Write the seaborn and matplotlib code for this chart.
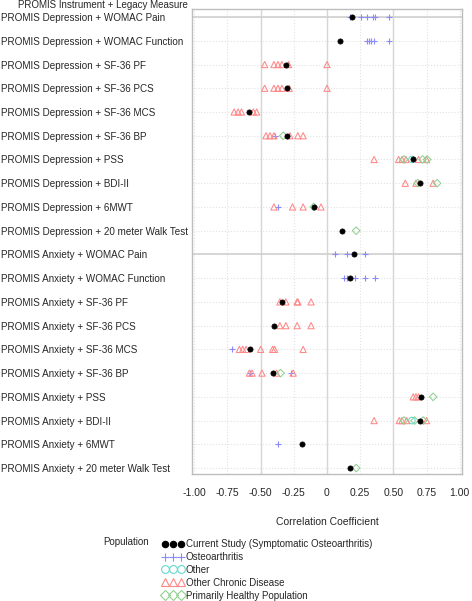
import numpy as np
import pandas as pd
import matplotlib
matplotlib.use("Agg")
import matplotlib.pyplot as plt
from matplotlib.lines import Line2D
import seaborn as sns

# Rows from top to bottom
measures = [
    "PROMIS Depression + WOMAC Pain",
    "PROMIS Depression + WOMAC Function",
    "PROMIS Depression + SF-36 PF",
    "PROMIS Depression + SF-36 PCS",
    "PROMIS Depression + SF-36 MCS",
    "PROMIS Depression + SF-36 BP",
    "PROMIS Depression + PSS",
    "PROMIS Depression + BDI-II",
    "PROMIS Depression + 6MWT",
    "PROMIS Depression + 20 meter Walk Test",
    "PROMIS Anxiety + WOMAC Pain",
    "PROMIS Anxiety + WOMAC Function",
    "PROMIS Anxiety + SF-36 PF",
    "PROMIS Anxiety + SF-36 PCS",
    "PROMIS Anxiety + SF-36 MCS",
    "PROMIS Anxiety + SF-36 BP",
    "PROMIS Anxiety + PSS",
    "PROMIS Anxiety + BDI-II",
    "PROMIS Anxiety + 6MWT",
    "PROMIS Anxiety + 20 meter Walk Test",
]

# Current study (one value per row)
current_r = [0.19, 0.10, -0.31, -0.30, -0.585, -0.305, 0.65, 0.70, -0.10, 0.11,
             0.20, 0.17, -0.34, -0.40, -0.58, -0.41, 0.71, 0.70, -0.19, 0.17]

# Literature values, one list per row
osteo_r = [
    [0.17, 0.26, 0.30, 0.35, 0.365, 0.465],
    [0.30, 0.315, 0.33, 0.355, 0.47],
    [], [], [],
    [-0.39],
    [], [],
    [-0.37],
    [],
    [0.06, 0.15, 0.29],
    [0.13, 0.15, 0.21, 0.29, 0.36],
    [], [],
    [-0.716],
    [-0.58, -0.27],
    [], [],
    [-0.37],
    [],
]
other_r = [[], [], [], [], [], [], [0.64], [], [], [],
           [], [], [], [], [], [], [], [0.64], [], []]
chronic_r = [
    [], [],
    [-0.47, -0.40, -0.37, -0.34, -0.29, 0.00],
    [-0.47, -0.40, -0.37, -0.34, -0.285, 0.00],
    [-0.70, -0.67, -0.645, -0.555, -0.53],
    [-0.46, -0.43, -0.40, -0.28, -0.22, -0.18],
    [0.355, 0.54, 0.565, 0.595, 0.69, 0.75],
    [0.59, 0.67, 0.80],
    [-0.40, -0.26, -0.18, -0.045],
    [],
    [], [],
    [-0.355, -0.31, -0.225, -0.22, -0.12],
    [-0.355, -0.31, -0.225, -0.12],
    [-0.66, -0.635, -0.61, -0.50, -0.41, -0.395, -0.18],
    [-0.585, -0.565, -0.49, -0.38, -0.255],
    [0.65, 0.67, 0.69],
    [0.355, 0.545, 0.565, 0.60, 0.75],
    [], [],
]
healthy_r = [
    [], [], [], [], [],
    [-0.33],
    [0.58, 0.72, 0.755],
    [0.685, 0.83],
    [-0.10],
    [0.22],
    [], [], [], [], [],
    [-0.35],
    [0.80],
    [0.58, 0.66, 0.725],
    [],
    [0.22],
]

x_ticks = [-1.0, -0.75, -0.5, -0.25, 0.0, 0.25, 0.5, 0.75, 1.0]
x_ticklabels = ["-1.00", "-0.75", "-0.50", "-0.25", "0", "0.25", "0.50", "0.75", "1.00"]


def to_long(values, name):
    rows = []
    for m, vals in zip(measures, values):
        for v in vals:
            rows.append((m, name, v))
    return rows


records = to_long([[v] for v in current_r], "Current Study (Symptomatic Osteoarthritis)")
records += to_long(osteo_r, "Osteoarthritis")
records += to_long(other_r, "Other")
records += to_long(chronic_r, "Other Chronic Disease")
records += to_long(healthy_r, "Primarily Healthy Population")
df = pd.DataFrame(records, columns=["measure", "population", "r"])
df["measure"] = pd.Categorical(df["measure"], categories=measures, ordered=True)

sns.set_style("white")
plt.rcParams["font.family"] = ["Liberation Sans", "DejaVu Sans"]

# population -> (marker, colour, scatter size, legend size, filled)
styles = {
    "Current Study (Symptomatic Osteoarthritis)": ("o", "black", 14, 4.6, True),
    "Osteoarthritis": ("+", "#8a8aff", 24, 6.0, True),
    "Other": ("o", "#66d8d0", 22, 5.6, False),
    "Other Chronic Disease": ("^", "#ff8888", 20, 5.8, False),
    "Primarily Healthy Population": ("D", "#8fd08f", 15, 4.8, False),
}

fig = plt.figure(figsize=(4.72, 6.01), dpi=100)
ax = fig.add_axes([192 / 472, 1 - 474 / 601, 270 / 472, 465 / 601])

draw_order = ["Osteoarthritis", "Other", "Other Chronic Disease",
              "Primarily Healthy Population",
              "Current Study (Symptomatic Osteoarthritis)"]
for k, pop in enumerate(draw_order):
    marker, col, size, _, filled = styles[pop]
    sub = df[df["population"] == pop]
    if marker == "+":
        sns.scatterplot(data=sub, x="r", y="measure", marker=marker, s=size,
                        color=col, linewidth=0.8, ax=ax, legend=False, zorder=3 + k)
    elif filled:
        sns.scatterplot(data=sub, x="r", y="measure", marker=marker, s=size,
                        color=col, edgecolor=col, linewidth=0.5, ax=ax,
                        legend=False, zorder=3 + k)
    else:
        sns.scatterplot(data=sub, x="r", y="measure", marker=marker, s=size,
                        color=col, facecolors="none", edgecolor=col,
                        linewidth=0.75, ax=ax, legend=False, zorder=3 + k)

ax.set_xlim(-1.0175, 1.0175)
ax.set_ylim(len(measures) - 0.75, -0.34)
ax.set_xticks(x_ticks)
ax.set_xticklabels(x_ticklabels)
ax.set_yticks(range(len(measures)))
ax.set_yticklabels(measures)

# grid: dotted everywhere, solid at -0.5, 0, 0.5 and group separators
ax.grid(True, color="#e2e2e2", linestyle=":", linewidth=0.8)
for xv in [-0.5, 0.0, 0.5]:
    ax.axvline(xv, color="#d6d6d6", linewidth=1.0, zorder=1)
for lab in ["PROMIS Depression + WOMAC Pain", "PROMIS Anxiety + WOMAC Pain"]:
    ax.axhline(measures.index(lab), color="#d0d0d0", linewidth=1.2, zorder=1)
ax.set_axisbelow(True)

for sp in ax.spines.values():
    sp.set_color("#bdbdbd")
    sp.set_linewidth(1.0)

ax.tick_params(axis="y", length=2, color="#bdbdbd", pad=135.5, labelsize=7.1)
for t in ax.get_yticklabels():
    t.set_horizontalalignment("left")
ax.tick_params(axis="x", length=4, color="#bdbdbd", pad=6, labelsize=7.5)
ax.set_xlabel("Correlation Coefficient", fontsize=7.5, labelpad=14)
ax.set_ylabel("")

fig.text(103 / 472, 1 - 5 / 601, "PROMIS Instrument + Legacy Measure",
         ha="center", va="center", fontsize=7)

# legend
handles = []
for pop in styles:
    marker, col, _, msize, filled = styles[pop]
    if filled:
        h = Line2D([], [], ls="none", marker=marker, color=col,
                   markersize=msize, markeredgewidth=0.8)
    else:
        h = Line2D([], [], ls="none", marker=marker, color=col,
                   markerfacecolor="none", markersize=msize,
                   markeredgewidth=0.8)
    handles.append(h)
fig.legend(handles, list(styles.keys()), loc="upper left",
           bbox_to_anchor=(162 / 472, 1 - 539 / 601), frameon=False,
           numpoints=3, handlelength=2.25, handletextpad=0.2,
           borderpad=0, borderaxespad=0, labelspacing=0.3, fontsize=7)
fig.text(103 / 472, 1 - 542 / 601, "Population", ha="left", va="center",
         fontsize=7)

fig.savefig("out.png", dpi=100)
